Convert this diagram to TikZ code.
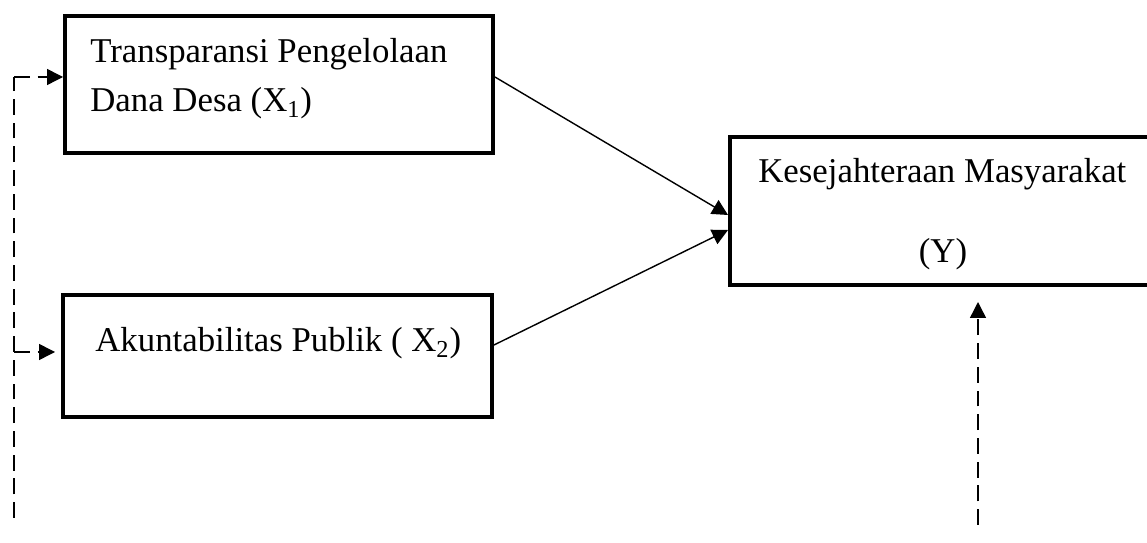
\documentclass[tikz,border=0pt]{standalone}
\usepackage{fontspec}
\setmainfont{Liberation Serif}
\usepackage{tikz}
\usetikzlibrary{positioning, calc, arrows.meta}

\begin{document}
\begin{tikzpicture}[x=0.02cm, y=-0.02cm,
        kotak/.style={draw, line width=2.3pt, rectangle, inner sep=0pt},
        teks/.style={inner sep=0pt, font=\fontsize{19.8}{24}\selectfont},
        panah/.style={-{Triangle[length=9pt, width=9pt]}, line width=0.8pt},
        putus/.style={dashed, dash pattern=on 9pt off 4.5pt, line width=0.8pt}]
        \clip (0,0) rectangle (1147,543);

        % 1. Kotak variabel
        \node[kotak, minimum width=8.56cm, minimum height=2.74cm] (x1) at (279,84.5) {};
        \node[kotak, minimum width=8.58cm, minimum height=2.44cm] (x2) at (277.5,356) {};
        \node[kotak, minimum width=8.7cm, minimum height=2.96cm] (y) at (947.5,211) {};

        % Teks di dalam kotak
        \node[teks, anchor=base west] (lbl_x1a) at (90,63) {Transparansi Pengelolaan};
        \node[teks, anchor=base west] (lbl_x1b) at (90,112) {Dana Desa (X\textsubscript{1})};
        \node[teks, anchor=base west] (lbl_x2) at (95,352) {Akuntabilitas Publik ( X\textsubscript{2})};
        \node[teks, anchor=base west] (lbl_ya) at (758,183) {Kesejahteraan Masyarakat};
        \node[teks, anchor=base] (lbl_yb) at (943,263) {(Y)};

        % 2. Panah X1, X2 -> Y
        \draw[panah] ($(x1.east)+(0,-7.5)$) -- ($(y.west)+(0,4)$);
        \draw[panah] ($(x2.east)+(0,-11)$) -- ($(y.west)+(0,19)$);

        % 3. Garis putus-putus kiri
        \coordinate (kiri_atas) at (14,77);
        \coordinate (kiri_bawah) at (14,518);
        \coordinate (kiri_x2) at (14,352);
        \draw[putus] (kiri_bawah) -- (kiri_atas);
        \draw[putus, panah] (kiri_atas) -- (kiri_atas -| x1.west);
        \draw[putus, panah] (kiri_x2) -- ($(kiri_x2 -| x2.west)+(-6,0)$);

        % 4. Garis putus-putus ke Y
        \coordinate (bawah_y) at (978,525);
        \draw[putus, panah] (bawah_y) -- ($(bawah_y |- y.south)+(0,15)$);
\end{tikzpicture}
\end{document}
